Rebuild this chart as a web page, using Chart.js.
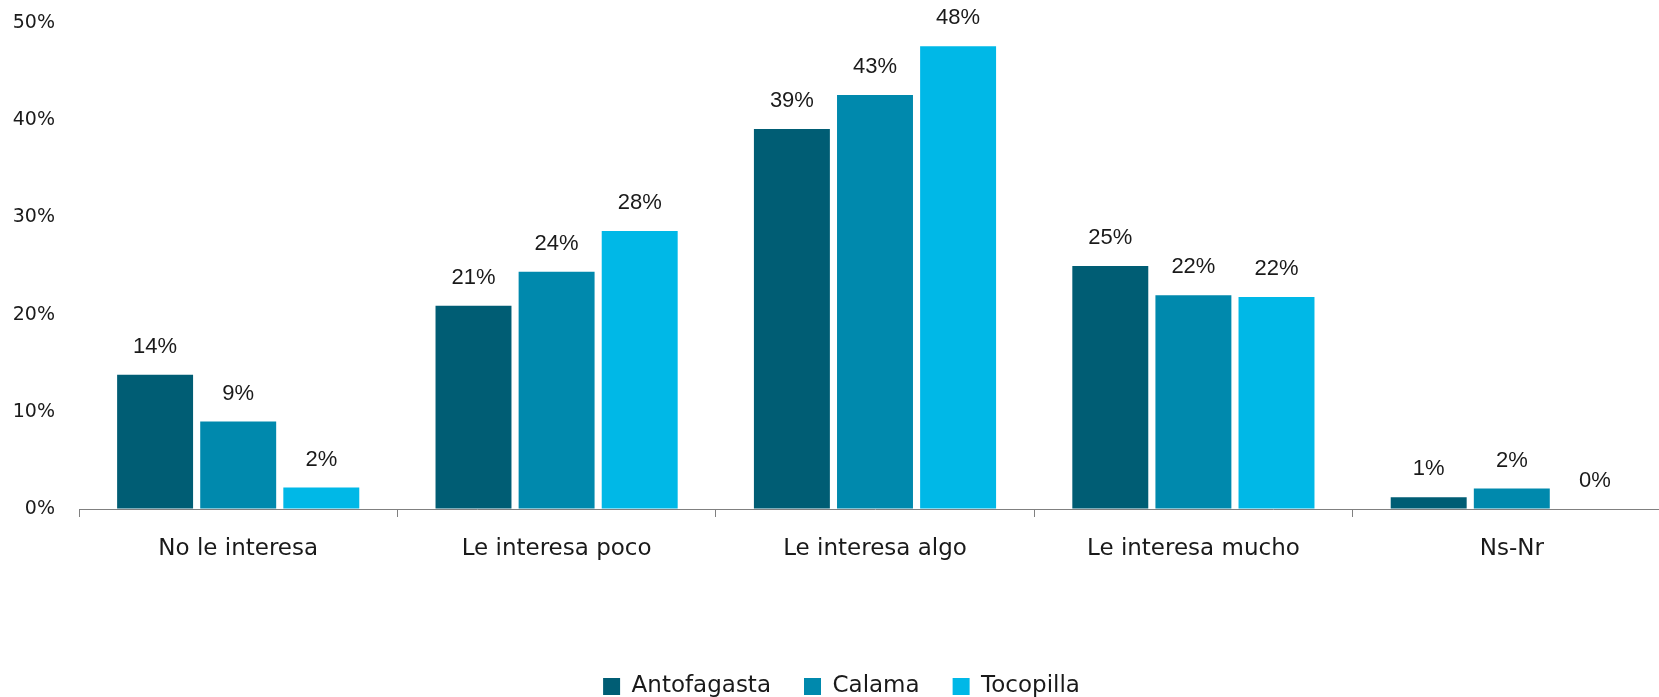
<!DOCTYPE html>
<html>
<head>
<meta charset="utf-8">
<script src="https://cdn.jsdelivr.net/npm/chart.js@4.4.1/dist/chart.umd.min.js"></script>
<style>
  html, body { margin: 0; padding: 0; background: #ffffff; overflow: hidden; }
  #wrap { position: relative; width: 1708px; height: 708px; }
</style>
</head>
<body>
<div id="wrap"><canvas id="c"></canvas></div>
<script>
const categories = ["No le interesa", "Le interesa poco", "Le interesa algo", "Le interesa mucho", "Ns-Nr"];
const seriesNames = ["Antofagasta", "Calama", "Tocopilla"];
const antofagasta = [13.8, 20.9, 39.1, 25.0, 1.2];
const calama = [9.0, 24.4, 42.6, 22.0, 2.1];
const tocopilla = [2.2, 28.6, 47.6, 21.8, 0.0];
const valueLabels = [
  ["14%", "21%", "39%", "25%", "1%"],
  ["9%", "24%", "43%", "22%", "2%"],
  ["2%", "28%", "48%", "22%", "0%"]
];
const yTicks = [0, 10, 20, 30, 40, 50];
const colors = ["#005d74", "#0089ad", "#00b8e7"];

const TEXT = "#1a1a1a";
const TICK_FONT = "'DejaVu Sans', 'Noto Sans', sans-serif";

const valueLabelPlugin = {
  id: "valueLabels",
  afterDatasetsDraw(chart) {
    const ctx = chart.ctx;
    ctx.save();
    ctx.font = "22px 'Liberation Sans', Arial, sans-serif";
    ctx.fillStyle = TEXT;
    ctx.textAlign = "center";
    ctx.textBaseline = "middle";
    chart.data.datasets.forEach((ds, di) => {
      const meta = chart.getDatasetMeta(di);
      meta.data.forEach((bar, i) => {
        ctx.fillText(valueLabels[di][i], bar.x, bar.y - 28);
      });
    });
    ctx.restore();
  }
};

new Chart(document.getElementById("c"), {
  type: "bar",
  data: {
    labels: categories,
    datasets: [
      { label: seriesNames[0], data: antofagasta, backgroundColor: colors[0] },
      { label: seriesNames[1], data: calama, backgroundColor: colors[1] },
      { label: seriesNames[2], data: tocopilla, backgroundColor: colors[2] }
    ]
  },
  options: {
    responsive: true,
    maintainAspectRatio: false,
    animation: false,
    datasets: { bar: { categoryPercentage: 0.783, barPercentage: 0.914 } },
    layout: { padding: { top: 23, right: 37, bottom: 0, left: 12 } },
    plugins: {
      legend: {
        position: "bottom",
        labels: {
          boxWidth: 17, boxHeight: 17, padding: 33,
          color: TEXT,
          font: { family: TICK_FONT, size: 23 }
        }
      },
      tooltip: { enabled: false }
    },
    scales: {
      x: {
        grid: { display: true, drawOnChartArea: false, tickLength: 8, color: "#808080", offset: true },
        border: { display: true, color: "#808080", width: 1 },
        ticks: { color: TEXT, padding: 18, font: { family: TICK_FONT, size: 23 }, maxRotation: 0 },
        afterFit(scale) { scale.height = 133; }
      },
      y: {
        min: 0, max: 50,
        afterBuildTicks(scale) { scale.ticks = yTicks.map(v => ({ value: v })); },
        grid: { display: true, drawOnChartArea: false, drawTicks: true, tickLength: 21, color: "rgba(0,0,0,0)" },
        border: { display: false },
        ticks: { color: TEXT, padding: 3, font: { family: TICK_FONT, size: 19 }, callback: v => v + "%" },
        afterFit(scale) { scale.width = 67; }
      }
    }
  },
  plugins: [valueLabelPlugin]
});
</script>
</body>
</html>
